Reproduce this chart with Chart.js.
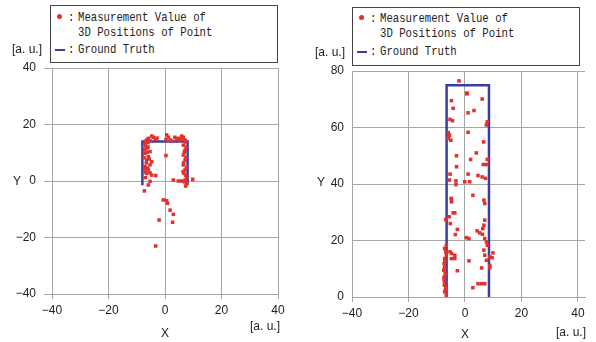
<!DOCTYPE html>
<html>
<head>
<meta charset="utf-8">
<script src="https://cdn.jsdelivr.net/npm/chart.js@4"></script>
<style>
  body { margin: 0; background: #fff; }
  #wrap { position: relative; width: 596px; height: 342px; overflow: hidden; font-family: "Liberation Sans", sans-serif; color: #222; }
  canvas { position: absolute; top: 0; }
  .txt { position: absolute; font-size: 12px; white-space: nowrap; line-height: 1; }
  .legend { position: absolute; border: 1px solid #444; background: #fff; }
  .mono { position: absolute; font-family: "Liberation Mono", monospace; font-size: 13px; white-space: nowrap; line-height: 1; transform: scaleX(0.82); transform-origin: left center; }
  .dot { position: absolute; width: 5px; height: 5px; border-radius: 50%; background: #e3302d; }
  .dash { position: absolute; width: 10px; height: 2px; background: #3a3f9e; }
</style>
</head>
<body>
<div id="wrap">
  <canvas id="leftChart" width="298" height="342" style="left:0"></canvas>
  <canvas id="rightChart" width="298" height="342" style="left:298px"></canvas>

  <!-- legend left -->
  <div class="legend" style="left:50px; top:5px; width:226px; height:56px;">
    <div class="dot" style="left:6px; top:8px;"></div>
    <div class="mono" style="left:17px; top:5px;">:</div>
    <div class="mono" style="left:27px; top:5px;">Measurement Value of</div>
    <div class="mono" style="left:27px; top:20px;">3D Positions of Point</div>
    <div class="dash" style="left:4px; top:43px;"></div>
    <div class="mono" style="left:17px; top:37px;">:</div>
    <div class="mono" style="left:27px; top:37px;">Ground Truth</div>
  </div>
  <!-- legend right -->
  <div class="legend" style="left:352px; top:7px; width:226px; height:57px;">
    <div class="dot" style="left:6px; top:7px;"></div>
    <div class="mono" style="left:17px; top:4px;">:</div>
    <div class="mono" style="left:27px; top:4px;">Measurement Value of</div>
    <div class="mono" style="left:27px; top:19px;">3D Positions of Point</div>
    <div class="dash" style="left:4px; top:43px;"></div>
    <div class="mono" style="left:17px; top:37px;">:</div>
    <div class="mono" style="left:27px; top:37px;">Ground Truth</div>
  </div>

  <div class="txt" style="left:12px; top:43px;">[a. u.]</div>
  <div class="txt" style="left:315px; top:46px;">[a. u.]</div>
  <div class="txt" style="left:13px; top:175px;">Y</div>
  <div class="txt" style="left:317px; top:176px;">Y</div>
  <div class="txt" style="left:161px; top:327px;">X</div>
  <div class="txt" style="left:461px; top:328px;">X</div>
  <div class="txt" style="left:250px; top:320px;">[a. u.]</div>
  <div class="txt" style="left:556px; top:326px;">[a. u.]</div>
</div>

<script>
// tick labels
const xTicks = [-40, -20, 0, 20, 40];
const leftYTicks = [-40, -20, 0, 20, 40];
const rightYTicks = [0, 20, 40, 60, 80];

// left plot: measured points
const leftX = [
  -4.7, -4.1, -5.9, -6.5, -5.3, -3.5, 0.6, 1.2, 0.35, 1.8, 3.5, 4.1, 5.9, 6.5, 7.1, 5.3, 4.7,
  -7.0, -2.8, 2.4, 6.0, -6.0, 7.4,
  -7.1, -6.5, -5.3, -7.1, -5.9, -6.5, -4.7, -5.3, -7.1, -5.9, -6.5, -5.3, -4.7,
  -6.8, -6.0, -7.3, -6.3, -7.4, -6.6, -7.2, -6.2, -7.0, -5.6, -6.9,
  -3.3, -5.3, -5.9, -7.3,
  6.5, 7.1, 6.5, 7.1, 6.5, 7.1, 6.7, 7.7, 7.1, 7.7, 7.3,
  7.5, 6.8, 7.4, 6.6, 7.6, 6.4, 7.3, 6.9,
  2.95, 4.7, 5.9, 9.8, 0.35,
  -0.6, 0.6, 0.9, 1.8, 2.95, -2.1, 2.7, -3.3
];
const leftY = [
  15.9, 15.5, 15.1, 14.5, 14.3, 14.7, 16.3, 15.5, 14.7, 14.5, 15.5, 14.7, 15.9, 15.5, 14.5, 14.3, 15.1,
  14.0, 15.2, 14.2, 14.8, 13.6, 13.8,
  13.3, 11.6, 10.4, 9.8, 8.6, 7.4, 6.8, 5.7, 5.1, 3.9, 2.7, 2.9, 2.1,
  12.4, 12.0, 11.0, 10.2, 8.2, 6.4, 4.4, 4.6, 3.2, 7.8, 1.2,
  1.9, -0.1, -1.4, -3.5,
  12.7, 11.0, 9.2, 7.4, 5.7, 3.9, 2.7, 1.5, 0.35, -0.8, -1.8,
  12.0, 10.2, 8.4, 6.4, 4.8, 3.3, 2.0, -0.3,
  0.35, 0, 0, 0.6, 9.0,
  -6.7, -7.0, -7.9, -10.3, -11.8, -13.8, -14.6, -23.0
];
// left plot: ground truth outline
const leftTruthX = [-8, -8, 8, 8];
const leftTruthY = [-1.5, 14, 14, -1.5];

// right plot: measured points
const rightX = [
  -2.1, 0.7, 0.7, 6.1, -4.8, -4.2, 3.2, 1.1, -5.3, -4.4, 7.9, 7.6, 1.1,
  -5.9, -5.5, -6.1, -5.0, -5.7, 6.6, 4.0, -3.0, 2.0, 7.9, 6.5, 7.7, -3.0,
  -5.3, 1.1, 4.6, 6.1, 7.3, -5.5, -3.2, -0.1, 1.7, -3.2,
  2.8, -4.9, -4.8, 6.7, 7.0, -4.2, -3.6, -5.6, -6.8, -5.2,
  7.0, 6.7, 6.3, -2.7, 4.3, 5.2, 6.2, -3.4, 0.5, 1.4, 7.0, 7.6, 7.9,
  -6.6, -7.2, -6.8, -6.6, -7.2, -5.3, -4.8, 9.9, -3.6, -3.6, -4.8,
  6.7, 7.0, 7.6, 8.8, 9.6, 1.4, -7.4, -7.2, -7.5, 8.8, 8.8, -2.7, 5.9,
  -7.4, -7.2, -6.8, -7.2, -6.6, -7.0, -7.3, -6.9, -7.4, -7.1,
  2.8, 4.6, 5.8, 7.0
];
const rightY = [
  76.5, 72.2, 71.9, 70.1, 69.5, 66.8, 66.0, 65.2, 62.9, 62.4, 62.0, 60.9, 58.3,
  58.2, 57.3, 56.1, 55.5, 56.8, 54.9, 51.0, 50.0, 48.7, 48.7, 46.9, 46.9, 46.1,
  43.5, 43.5, 43.0, 42.5, 42.0, 41.4, 41.1, 40.8, 40.8, 39.8,
  36.0, 34.9, 33.7, 34.3, 33.1, 29.8, 29.8, 28.4, 27.4, 26.0,
  27.2, 25.4, 24.2, 23.9, 23.4, 22.7, 22.2, 22.1, 21.0, 20.7, 20.7, 19.5, 18.3,
  18.3, 17.2, 16.0, 14.8, 13.6, 16.0, 15.4, 15.6, 14.8, 13.6, 13.6,
  16.6, 14.8, 13.0, 14.2, 13.9, 12.8, 11.8, 10.6, 9.5, 11.2, 10.3, 9.3, 10.3,
  7.1, 5.3, 3.5, 1.8, 0.6, 8.3, 4.2, 2.6, 6.2, 12.5,
  3.3, 4.7, 4.7, 4.7
];
// right plot: ground truth outline (open at the bottom)
const rightTruthX = [-6.5, -6.5, 8.5, 8.5];
const rightTruthY = [0, 75, 75, 0];

const pointRed = '#e3302d';
const truthBlue = '#3a3f9e';
const gridGray = '#a6a6a6';

function toPoints(xs, ys) {
  return xs.map((x, i) => ({ x: x, y: ys[i] }));
}

function minusSign(v) {
  return String(v).replace('-', '\u2212');
}

function makeChart(id, opts) {
  const ctx = document.getElementById(id).getContext('2d');
  return new Chart(ctx, {
    type: 'scatter',
    data: {
      datasets: [
        {
          data: toPoints(opts.truthX, opts.truthY),
          showLine: true,
          borderColor: truthBlue,
          borderWidth: 2.5,
          pointRadius: 0,
          fill: false,
          order: 2
        },
        {
          data: toPoints(opts.xs, opts.ys),
          backgroundColor: pointRed,
          borderWidth: 0,
          pointStyle: 'rect',
          pointRadius: 2.5,
          order: 1
        }
      ]
    },
    options: {
      responsive: false,
      animation: false,
      events: [],
      layout: { padding: { top: opts.top, right: opts.right, left: 0, bottom: 0 } },
      plugins: { legend: { display: false }, tooltip: { enabled: false } },
      scales: {
        x: {
          type: 'linear',
          min: -40,
          max: opts.xMax,
          afterBuildTicks: (scale) => { scale.ticks = xTicks.map(v => ({ value: v })); },
          afterFit: (scale) => { scale.height = opts.xAxisH; },
          ticks: {
            callback: minusSign,
            color: '#222',
            font: { family: 'Liberation Sans', size: 12 },
            padding: 4,
            maxRotation: 0
          },
          grid: { color: gridGray, lineWidth: 1, tickLength: 5 },
          border: { color: gridGray }
        },
        y: {
          type: 'linear',
          min: opts.yTicks[0],
          max: opts.yTicks[opts.yTicks.length - 1],
          afterBuildTicks: (scale) => { scale.ticks = opts.yTicks.map(v => ({ value: v })); },
          afterFit: (scale) => { scale.width = opts.yAxisW; },
          ticks: {
            callback: minusSign,
            color: '#222',
            font: { family: 'Liberation Sans', size: 12 },
            padding: opts.yPad
          },
          grid: { color: gridGray, lineWidth: 1, tickLength: opts.yTick, drawTicks: opts.yTick > 0 },
          border: { color: gridGray }
        }
      }
    }
  });
}

makeChart('leftChart', {
  xs: leftX, ys: leftY, truthX: leftTruthX, truthY: leftTruthY,
  yTicks: leftYTicks, xMax: 40,
  top: 68, right: 20, xAxisH: 48, yAxisW: 52, yPad: 8, yTick: 8
});

makeChart('rightChart', {
  xs: rightX, ys: rightY, truthX: rightTruthX, truthY: rightTruthY,
  yTicks: rightYTicks, xMax: 42.5,
  top: 71, right: 11, xAxisH: 45, yAxisW: 54, yPad: 8, yTick: 0
});
</script>
</body>
</html>
